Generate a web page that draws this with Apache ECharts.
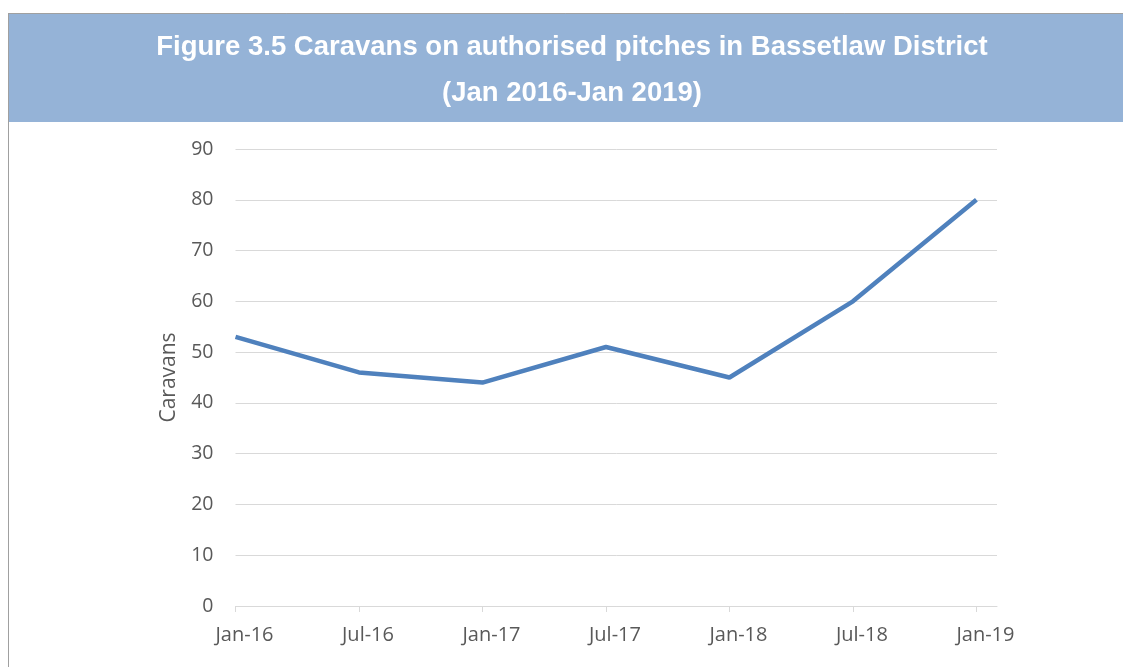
<!DOCTYPE html>
<html>
<head>
<meta charset="utf-8">
<script src="https://cdn.jsdelivr.net/npm/echarts@6/dist/echarts.min.js"></script>
<style>html,body{margin:0;padding:0;background:#fff;}#c{width:1123px;height:667px;}</style>
</head>
<body>
<div id="c"></div>
<script>
const categories = ['Jan-16','Jul-16','Jan-17','Jul-17','Jan-18','Jul-18','Jan-19'];
const monthOffsets = [0, 6, 12, 18, 24, 30, 36];
const caravans = [53, 46, 44, 51, 45, 60, 80];
const titleLines = ['Figure 3.5 Caravans on authorised pitches in Bassetlaw District', '(Jan 2016-Jan 2019)'];

const chart = echarts.init(document.getElementById('c'));
const labelMap = {};
monthOffsets.forEach((m,i)=>{labelMap[m]=categories[i];});
const titleFont = 'bold 27.5px "Liberation Sans", Arial, sans-serif';
chart.setOption({
  animation:false,
  backgroundColor:'#ffffff',
  graphic:[
    {type:'rect', shape:{x:8,y:13,width:1115,height:109}, style:{fill:'#95B3D7'}, silent:true, z:-1},
    {type:'line', shape:{x1:8,y1:13.5,x2:1123,y2:13.5}, style:{stroke:'#a0a0a0',lineWidth:1}},
    {type:'line', shape:{x1:8.5,y1:13,x2:8.5,y2:667}, style:{stroke:'#a0a0a0',lineWidth:1}},
    {type:'text', x:572, y:47, style:{text:titleLines[0], fill:'#ffffff', font:titleFont, align:'center', verticalAlign:'middle'}},
    {type:'text', x:572, y:93, style:{text:titleLines[1], fill:'#ffffff', font:titleFont, align:'center', verticalAlign:'middle'}}
  ],
  grid:{left:235.5, right:126, top:149, bottom:61, containLabel:false},
  xAxis:{
    type:'value', min:0, max:37, interval:6,
    axisLine:{show:true, lineStyle:{color:'#d9d9d9', width:1}},
    axisTick:{show:true, length:6, lineStyle:{color:'#d9d9d9'}, customValues: monthOffsets},
    axisLabel:{color:'#595959', fontSize:20, fontFamily:'"Open Sans", sans-serif', margin:19, padding:[0,0,0,18], customValues: monthOffsets, formatter:(v)=>labelMap[v]||''},
    splitLine:{show:false}
  },
  yAxis:{
    type:'value', min:0, max:90, interval:10,
    name:'Caravans', nameLocation:'middle', nameGap:56, nameRotate:90,
    nameTextStyle:{color:'#595959', fontSize:21, fontFamily:'"Open Sans", sans-serif'},
    axisLine:{show:false}, axisTick:{show:false},
    axisLabel:{color:'#595959', fontSize:19.5, fontFamily:'"Open Sans", sans-serif', margin:22},
    splitLine:{lineStyle:{color:'#d9d9d9', width:1}}
  },
  series:[{
    type:'line',
    data: monthOffsets.map((m,i)=>[m, caravans[i]]),
    showSymbol:false, symbol:'none',
    lineStyle:{color:'#4F81BD', width:4.5},
    itemStyle:{color:'#4F81BD'}
  }]
});
</script>
</body>
</html>
